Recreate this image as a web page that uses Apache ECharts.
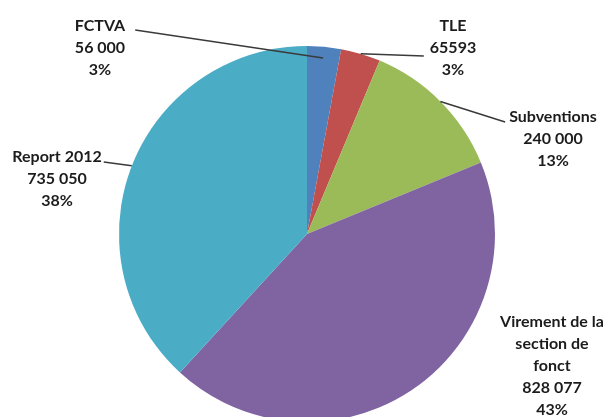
<!DOCTYPE html>
<html>
<head>
<meta charset="utf-8">
<script src="https://cdn.jsdelivr.net/npm/echarts@6/dist/echarts.min.js"></script>
<style>
html, body { margin: 0; padding: 0; background: #fff; }
#chart { width: 611px; height: 417px; }
</style>
</head>
<body>
<div id="chart"></div>
<script>
var categories = ['FCTVA', 'TLE', 'Subventions', 'Virement de la\nsection de\nfonct', 'Report 2012'];
var values = [56000, 65593, 240000, 828077, 735050];
var valueLabels = ['56 000', '65593', '240 000', '828 077', '735 050'];

var colors = ['#4f81bd', '#c0504d', '#9bbb59', '#8064a2', '#4bacc6'];
var lineH = 22;
var pieCenter = [307, 234];

// centre of each label block, and where the leader line leaves it
var labelSpots = [
    { x: 100, y: 48, side: 'right', gap: 10, dy: 15, inset: 0.06 },
    { x: 453, y: 48, side: 'left', gap: 6, dy: 41, inset: 0 },
    { x: 553, y: 139, side: 'left', gap: 4, dy: 16, inset: 0 },
    { x: 552, y: 366, side: null },
    { x: 57, y: 179, side: 'right', gap: 2, dy: 16, inset: 0 }
];

var chart = echarts.init(document.getElementById('chart'));

// coloured slices, no labels
var sliceData = categories.map(function (name, i) {
    return { name: name, value: values[i], itemStyle: { color: colors[i] } };
});

// same slices again, invisible, only to carry labels + leader lines above the pie
var labelData = categories.map(function (name, i) {
    var item = { name: name, value: values[i] };
    if (!labelSpots[i].side) item.labelLine = { show: false };
    return item;
});

var common = {
    type: 'pie',
    center: pieCenter,
    radius: 188,
    startAngle: 90,
    clockwise: true,
    avoidLabelOverlap: false,
    percentPrecision: 0,
    silent: true
};

chart.setOption({
    animation: false,
    backgroundColor: '#fff',
    series: [
        Object.assign({}, common, {
            z: 2,
            data: sliceData,
            itemStyle: { borderWidth: 0 },
            label: { show: false },
            labelLine: { show: false }
        }),
        Object.assign({}, common, {
            z: 3,
            data: labelData,
            itemStyle: { color: 'rgba(0,0,0,0)', borderWidth: 0 },
            label: {
                show: true,
                position: 'outside',
                fontFamily: 'Lato',
                fontWeight: 'bold',
                fontSize: 16,
                lineHeight: lineH,
                color: '#1c1c1c',
                align: 'center',
                formatter: function (p) {
                    return p.name + '\n' + valueLabels[p.dataIndex] + '\n' + p.percent + '%';
                }
            },
            labelLine: {
                show: true,
                lineStyle: { color: '#3a3a3a', width: 1.5 }
            },
            labelLayout: function (p) {
                var s = labelSpots[p.dataIndex];
                var w = p.labelRect.width, h = p.labelRect.height;
                var out = { x: s.x, y: s.y, align: 'center', verticalAlign: 'middle' };
                if (s.side && p.labelLinePoints) {
                    var a = p.labelLinePoints[0];
                    var ax = a[0] + (pieCenter[0] - a[0]) * s.inset;
                    var ay = a[1] + (pieCenter[1] - a[1]) * s.inset;
                    var ty = s.y - h / 2 + s.dy;
                    var tx = s.side === 'right' ? s.x + w / 2 + s.gap : s.x - w / 2 - s.gap;
                    out.labelLinePoints = [[ax, ay], [tx, ty], [tx, ty]];
                }
                return out;
            }
        })
    ]
});
</script>
</body>
</html>
